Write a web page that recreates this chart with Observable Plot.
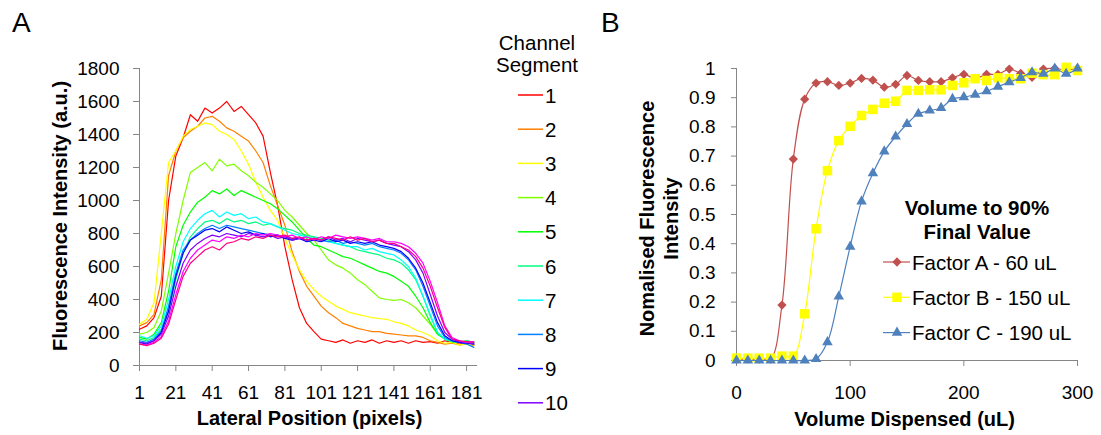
<!DOCTYPE html>
<html>
<head>
<meta charset="utf-8">
<script src="https://cdn.jsdelivr.net/npm/d3@7"></script>
<script src="https://cdn.jsdelivr.net/npm/@observablehq/plot@0.6"></script>
<style>
  html, body { margin: 0; padding: 0; background: #fff; }
  #wrap { position: relative; width: 1101px; height: 435px; overflow: hidden; background: #fff; }
  #wrap svg { position: absolute; top: 0; }
</style>
</head>
<body>
<div id="wrap"></div>
<script>
// ---------------- Panel A data ----------------
const positions = [1,5,9,13,17,21,25,29,33,37,41,45,49,53,57,61,65,69,73,77,81,85,89,93,97,101,105,109,113,117,121,125,129,133,137,141,145,149,153,157,161,165,169,173,177,181,185];
const segments = ["1","2","3","4","5","6","7","8","9","10","11","12"];
const legendSegments = ["1","2","3","4","5","6","7","8","9","10"];
const segColors = ["#ff0000","#ff8000","#ffff00","#80ff00","#00ff00","#00ff80","#00ffff","#0080ff","#0000ff","#8000ff","#ff00ff","#ff0080"];
const xTicksA = [1,21,41,61,81,101,121,141,161,181];
const yTicksA = [0,200,400,600,800,1000,1200,1400,1600,1800];

const seg1 = [220,240,290,420,1000,1270,1380,1520,1480,1560,1530,1560,1600,1540,1570,1520,1470,1390,1170,970,720,520,350,255,205,160,150,140,155,135,150,140,155,135,150,140,150,135,150,140,145,135,150,140,130,140,130];
const seg2 = [240,260,310,520,1150,1300,1380,1420,1450,1500,1510,1480,1440,1420,1390,1360,1300,1230,1090,970,850,690,570,480,420,360,320,290,255,240,225,215,205,205,195,190,185,180,180,170,150,140,130,135,125,130,120];
const seg3 = [250,280,380,800,1230,1300,1390,1430,1450,1470,1460,1420,1400,1370,1300,1220,1110,1020,940,880,770,670,580,510,460,420,390,360,340,320,310,300,290,285,280,265,255,240,215,200,180,150,135,140,125,130,125];
const seg4 = [190,200,230,330,560,800,1000,1170,1200,1230,1180,1250,1210,1220,1180,1150,1110,1080,1040,1000,940,900,850,800,760,700,640,610,590,560,520,490,450,410,400,395,400,380,350,300,250,190,160,145,140,145,135];
const seg5 = [170,160,190,260,450,720,850,930,990,1020,1060,1040,1070,1030,1060,1040,1020,1000,980,950,910,870,820,770,730,720,700,680,660,650,630,610,590,570,560,540,510,480,420,350,260,190,160,145,140,150,140];
const seg6 = [160,150,170,220,330,520,680,780,830,870,880,860,890,870,880,860,870,850,860,840,830,820,800,790,780,770,760,740,730,720,700,690,680,670,650,640,620,580,520,420,300,200,160,145,140,150,140];
const seg7 = [180,165,180,240,400,600,750,830,880,920,940,900,930,910,920,890,900,870,860,840,820,800,790,780,770,760,750,740,730,720,720,700,710,690,680,670,640,600,530,420,310,200,160,150,140,145,135];
const seg8 = [150,140,160,210,360,560,700,760,800,830,850,830,850,840,830,820,810,800,790,790,780,770,770,760,770,760,750,760,740,750,740,730,740,720,710,700,680,640,580,480,360,240,170,150,140,130,110];
const seg9 = [140,130,150,200,330,540,680,760,790,820,830,810,840,820,800,810,790,800,780,790,770,760,770,750,760,750,770,750,760,740,750,740,750,730,720,710,690,650,590,500,380,260,180,150,140,135,130];
const seg10 = [140,135,150,190,300,480,620,700,740,770,790,780,800,790,780,800,790,780,790,770,780,760,770,760,770,760,780,760,770,750,770,760,750,760,740,730,720,690,640,560,430,300,200,160,145,140,130];
const seg11 = [130,125,140,175,270,430,570,650,700,730,760,750,780,770,790,780,800,790,800,790,780,790,770,780,760,780,770,790,780,770,780,770,760,770,750,750,740,720,680,620,510,380,240,170,150,140,145];
const seg12 = [130,120,135,165,250,400,540,620,660,700,720,700,740,750,770,760,780,770,790,780,790,770,780,760,770,760,780,770,760,780,760,770,750,760,740,740,720,700,660,590,480,350,230,160,150,145,140];
const seriesA = [seg1,seg2,seg3,seg4,seg5,seg6,seg7,seg8,seg9,seg10,seg11,seg12];

// ---------------- Panel B data ----------------
const volumes = [0,10,20,30,40,50,60,70,80,90,100,110,120,130,140,150,160,170,180,190,200,210,220,230,240,250,260,270,280,290,300];
const factorA = [0.005,0.005,0.005,0.005,0.19,0.69,0.895,0.95,0.955,0.942,0.95,0.966,0.96,0.936,0.946,0.976,0.959,0.955,0.955,0.968,0.98,0.966,0.98,0.98,0.998,0.983,0.97,0.998,1.0,0.995,1.0];
const factorB = [0.008,0.008,0.008,0.008,0.015,0.015,0.16,0.451,0.65,0.753,0.802,0.839,0.86,0.881,0.888,0.925,0.925,0.927,0.927,0.942,0.951,0.965,0.959,0.968,0.965,0.965,0.984,0.979,0.979,1.004,0.993];
const factorC = [0,0,0,0,0,0,0,0.005,0.063,0.219,0.39,0.545,0.641,0.716,0.767,0.81,0.845,0.856,0.865,0.896,0.902,0.91,0.922,0.938,0.953,0.968,0.987,0.982,1.0,0.982,1.0];
const factorNames = ["Factor A - 60 uL","Factor B - 150 uL","Factor C - 190 uL"];
const factorColors = ["#c0504d","#ffff00","#4f81bd"];
const xTicksB = [0,100,200,300];
const yTicksB = [0,0.1,0.2,0.3,0.4,0.5,0.6,0.7,0.8,0.9,1];

// ---------------- Styling ----------------
const FONT = '"Liberation Sans", Arial, Helvetica, sans-serif';
const AXIS = "#868686";
const TICK_FS = 19;
const TITLE_FS = 20;

const diamondSym = {draw(ctx, size) { const h = Math.sqrt(size / 2); ctx.moveTo(0, -h); ctx.lineTo(h, 0); ctx.lineTo(0, h); ctx.lineTo(-h, 0); ctx.closePath(); }};
const factorSymbols = [diamondSym, d3.symbolSquare, d3.symbolTriangle];
const factorR = [3.7, 5.36, 3.9];

const wrap = document.getElementById("wrap");

// ---------------- Panel A ----------------
const rowsA = [];
seriesA.forEach((vals, k) => vals.forEach((v, i) => rowsA.push({pos: positions[i], value: v, segment: segments[k]})));

const plotA = Plot.plot({
  width: 590, height: 435,
  marginLeft: 139, marginRight: 113, marginTop: 68, marginBottom: 70,
  style: {fontFamily: FONT, fontSize: TICK_FS + "px", background: "transparent", overflow: "visible", color: "#000"},
  x: {type: "linear", domain: [1, 187]},
  y: {domain: [0, 1800]},
  color: {domain: segments, range: segColors},
  marks: [
    Plot.ruleY([0], {stroke: AXIS, strokeWidth: 1}),
    Plot.ruleX([1], {stroke: AXIS, strokeWidth: 1}),
    Plot.axisX({ticks: xTicksA, tickSize: 6, tickPadding: 14, stroke: AXIS, fill: "#000", fontSize: TICK_FS, label: null, tickFormat: d => String(d)}),
    Plot.axisY({ticks: yTicksA, tickSize: 6, tickPadding: 14, stroke: AXIS, fill: "#000", fontSize: TICK_FS, label: null, tickFormat: d => String(d)}),
    Plot.line(rowsA, {x: "pos", y: "value", z: "segment", stroke: "segment", strokeWidth: 1.2}),
    Plot.text(["Lateral Position (pixels)"], {text: d => d, frameAnchor: "bottom", dx: 1, dy: 52.6, textAnchor: "middle", lineAnchor: "middle", fontSize: TITLE_FS, fontWeight: "bold", fill: "#000"}),
    Plot.text(["Fluorescence Intensity (a.u.)"], {text: d => d, frameAnchor: "left", dx: -78.7, dy: -1, rotate: -90, textAnchor: "middle", lineAnchor: "middle", fontSize: TITLE_FS, fontWeight: "bold", fill: "#000"})
  ]
});
plotA.style.left = "0px";
wrap.appendChild(plotA);

// ---------------- Panel B ----------------
const seriesB = [factorA, factorB, factorC];
const rowsB = seriesB.map((vals, k) => vals.map((v, i) => ({volume: volumes[i], value: v, factor: factorNames[k]})));

const marksB = [
  Plot.ruleY([0], {stroke: AXIS, strokeWidth: 1}),
  Plot.ruleX([0], {stroke: AXIS, strokeWidth: 1}),
  Plot.axisX({ticks: xTicksB, tickSize: 6, tickPadding: 19, stroke: AXIS, fill: "#000", fontSize: TICK_FS, label: null, tickFormat: d => String(d)}),
  Plot.axisY({ticks: yTicksB, tickSize: 5, tickPadding: 16, stroke: AXIS, fill: "#000", fontSize: TICK_FS, label: null, tickFormat: d => String(+d.toFixed(1))})
];
rowsB.forEach((rows, k) => {
  marksB.push(Plot.line(rows, {x: "volume", y: "value", stroke: factorColors[k], strokeWidth: 1.2, curve: "catmull-rom"}));
  marksB.push(Plot.dot(rows, {x: "volume", y: "value", fill: factorColors[k], stroke: "none", symbol: factorSymbols[k], r: factorR[k]}));
});
marksB.push(Plot.text(["Volume Dispensed (uL)"], {text: d => d, frameAnchor: "bottom", dx: -2.5, dy: 58.6, textAnchor: "middle", lineAnchor: "middle", fontSize: TITLE_FS, fontWeight: "bold", fill: "#000"}));
marksB.push(Plot.text(["Nomalised Fluorescence\nIntensity"], {text: d => d, frameAnchor: "left", dx: -78.4, dy: 4, rotate: -90, textAnchor: "middle", lineAnchor: "middle", lineHeight: 1.2, fontSize: TITLE_FS, fontWeight: "bold", fill: "#000"}));

const plotB = Plot.plot({
  width: 541, height: 435,
  marginLeft: 176, marginRight: 24, marginTop: 68, marginBottom: 75,
  style: {fontFamily: FONT, fontSize: TICK_FS + "px", background: "transparent", overflow: "visible", color: "#000"},
  x: {domain: [0, 300]},
  y: {domain: [0, 1]},
  marks: marksB
});
plotB.style.left = "560px";
wrap.appendChild(plotB);

// ---------------- Overlay: panel letters and legends ----------------
const ov = d3.create("svg")
  .attr("width", 1101).attr("height", 435)
  .style("left", "0px").style("pointer-events", "none")
  .style("font-family", FONT);

ov.append("text").attr("x", 12).attr("y", 32).attr("font-size", 28).attr("fill", "#000").text("A");
ov.append("text").attr("x", 601).attr("y", 32).attr("font-size", 28).attr("fill", "#000").text("B");

// Legend A
const legA = ov.append("g");
legA.append("text").attr("x", 537).attr("y", 50).attr("text-anchor", "middle").attr("font-size", 20.5).text("Channel");
legA.append("text").attr("x", 537).attr("y", 72).attr("text-anchor", "middle").attr("font-size", 20.5).text("Segment");
legendSegments.forEach((s, i) => {
  const cy = 95 + i * 34.2;
  const col = segColors[segments.indexOf(s)];
  legA.append("line").attr("x1", 518).attr("x2", 543).attr("y1", cy).attr("y2", cy).attr("stroke", col).attr("stroke-width", 1.5);
  legA.append("text").attr("x", 545).attr("y", cy + 7.5).attr("font-size", 20.5).text(s);
});

// Legend B
const legB = ov.append("g");
legB.append("text").attr("x", 977).attr("y", 215).attr("text-anchor", "middle").attr("font-size", 20.5).attr("font-weight", "bold").text("Volume to 90%");
legB.append("text").attr("x", 977).attr("y", 239).attr("text-anchor", "middle").attr("font-size", 20.5).attr("font-weight", "bold").text("Final Value");
factorNames.forEach((name, k) => {
  const cy = 262 + k * 35.3;
  legB.append("line").attr("x1", 883).attr("x2", 910).attr("y1", cy).attr("y2", cy).attr("stroke", factorColors[k]).attr("stroke-width", 1.2);
  legB.append("path")
    .attr("transform", `translate(897,${cy})`)
    .attr("d", d3.symbol().type(factorSymbols[k]).size(factorR[k] * factorR[k] * Math.PI)())
    .attr("fill", factorColors[k]);
  legB.append("text").attr("x", 912).attr("y", cy + 7.5).attr("font-size", 20.5).text(name);
});

wrap.appendChild(ov.node());
</script>
</body>
</html>
